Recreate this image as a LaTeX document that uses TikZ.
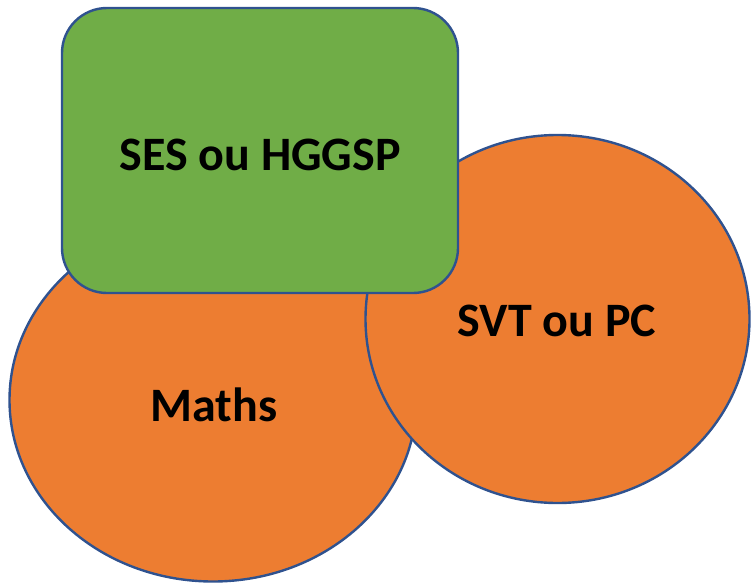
\documentclass[tikz,border=0pt]{standalone}
\usepackage{fontspec}
\setmainfont{Carlito}
\usetikzlibrary{shapes.geometric}
\definecolor{orangefill}{HTML}{ED7D31}
\definecolor{greenfill}{HTML}{70AD47}
\definecolor{edgeblue}{HTML}{2F528F}
\tikzset{
  blob/.style={ellipse, draw=edgeblue, fill=orangefill, line width=2.4pt, inner sep=0pt},
  card/.style={rectangle, draw=edgeblue, fill=greenfill, line width=2.4pt, rounded corners=45pt, inner sep=0pt},
  lbl/.style={anchor=base, inner sep=0pt, font=\fontsize{48}{50}\selectfont\bfseries, text=black}
}
\begin{document}
\begin{tikzpicture}[x=1pt,y=-1pt]
\useasboundingbox (0,0) rectangle (751,583);
\node[blob, minimum width=407pt, minimum height=363pt] (maths) at (213,400) {};
\node[blob, minimum width=384pt, minimum height=368pt] (svt) at (557.5,319) {};
\node[card, minimum width=396pt, minimum height=285pt] (ses) at (260,150.5) {};
\node[lbl] (tses) at (260,170) {SES ou HGGSP};
\node[lbl] (tsvt) at (557,336) {SVT ou PC};
\node[lbl] (tmaths) at (214,421.5) {Maths};
\end{tikzpicture}
\end{document}
